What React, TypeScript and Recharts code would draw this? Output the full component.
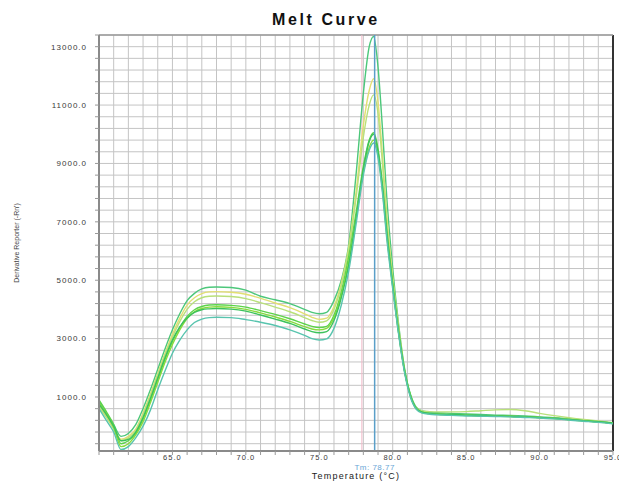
import { LineChart, Line, XAxis, YAxis, CartesianGrid, ReferenceLine } from 'recharts';

// temperature (°C) sample points shared by every well
const temps = [
  60, 60.5, 61, 61.5, 62, 62.5, 63, 63.5, 64, 64.5, 65, 65.5, 66, 66.5, 67, 67.5, 68, 69, 70, 71, 72, 73, 74,
  74.5, 75, 75.5, 76, 76.5, 77, 77.5, 78, 78.4, 78.7, 79, 79.3, 79.6, 80, 80.4, 80.8, 81.2, 81.6, 82, 82.5, 83,
  84, 85, 86, 87, 88, 89, 90, 91, 92, 93, 94, 95,
];

const wellA = [
  850, 450, 50, -350, -250, 50, 600, 1250, 1950, 2650, 3300, 3850, 4300, 4550, 4700, 4760, 4770, 4750, 4660, 4450,
  4330, 4200, 4000, 3900, 3850, 3900, 4300, 5000, 6200, 8600, 11400, 13000, 13350, 12300, 10200, 7800, 5400, 3500,
  2000, 1100, 650, 520, 480, 460, 440, 420, 400, 380, 370, 350, 320, 290, 250, 210, 160, 110,
];
const wellB = [
  700, 350, -50, -450, -350, -100, 450, 1100, 1800, 2500, 3150, 3700, 4150, 4400, 4540, 4600, 4610, 4590, 4520, 4380,
  4220, 4060, 3850, 3730, 3660, 3700, 4100, 4900, 6100, 8000, 10300, 11500, 11900, 11100, 9300, 7200, 5100, 3400,
  1950, 1050, 600, 470, 430, 410, 390, 370, 360, 350, 340, 320, 300, 270, 230, 190, 150, 110,
];
const wellC = [
  650, 300, -100, -500, -400, -150, 400, 1050, 1750, 2450, 3050, 3580, 4000, 4260, 4400, 4450, 4460, 4440, 4370, 4230,
  4080, 3920, 3720, 3620, 3560, 3610, 4000, 4800, 6000, 7800, 9900, 11000, 11350, 10700, 9000, 7000, 5000, 3300,
  1900, 1050, 640, 520, 500, 490, 490, 500, 530, 560, 570, 530, 440, 360, 290, 230, 180, 120,
];
const wellD = [
  900, 500, 50, -600, -500, -250, 250, 900, 1600, 2300, 2900, 3380, 3760, 3990, 4100, 4150, 4160, 4140, 4080, 3960,
  3830, 3680, 3500, 3420, 3380, 3420, 3800, 4600, 5800, 7300, 8900, 9800, 10050, 9500, 8300, 6700, 4900, 3300, 1950,
  1080, 620, 480, 440, 420, 400, 380, 360, 350, 340, 320, 300, 270, 230, 190, 150, 100,
];
const wellE = [
  800, 420, -50, -700, -600, -300, 150, 800, 1500, 2200, 2800, 3300, 3690, 3920, 4030, 4080, 4090, 4070, 4000, 3880,
  3740, 3590, 3410, 3330, 3300, 3350, 3720, 4500, 5600, 7100, 8700, 9550, 9800, 9300, 8100, 6500, 4800, 3200, 1900,
  1050, 600, 470, 430, 410, 390, 370, 350, 340, 330, 310, 290, 260, 220, 180, 140, 90,
];
const wellF = [
  750, 400, 0, -500, -450, -200, 300, 950, 1650, 2350, 2950, 3400, 3710, 3900, 3990, 4020, 4030, 4010, 3940, 3810,
  3670, 3520, 3330, 3240, 3200, 3240, 3620, 4400, 5500, 7100, 8800, 9750, 10000, 9400, 8200, 6600, 4800, 3200, 1900,
  1050, 610, 480, 440, 420, 400, 380, 360, 350, 340, 320, 300, 270, 230, 190, 150, 100,
];
const wellH = [
  600, 200, -200, -800, -700, -400, 0, 550, 1250, 1900, 2500, 2950, 3300, 3550, 3670, 3720, 3730, 3720, 3650, 3560,
  3450, 3300, 3110, 3000, 2950, 2990, 3350, 4150, 5300, 6900, 8600, 9450, 9700, 9200, 8000, 6400, 4700, 3150, 1850,
  1000, 580, 450, 410, 390, 370, 350, 340, 330, 320, 300, 280, 250, 210, 170, 130, 80,
];

const xTicks = [
  60, 61, 62, 63, 64, 65, 66, 67, 68, 69, 70, 71, 72, 73, 74, 75, 76, 77, 78, 79, 80, 81, 82, 83, 84, 85, 86, 87, 88,
  89, 90, 91, 92, 93, 94, 95,
];
const xLabels = [65, 70, 75, 80, 85, 90, 95];
const yTicks = [
  -600, -200, 200, 600, 1000, 1400, 1800, 2200, 2600, 3000, 3400, 3800, 4200, 4600, 5000, 5400, 5800, 6200, 6600,
  7000, 7400, 7800, 8200, 8600, 9000, 9400, 9800, 10200, 10600, 11000, 11400, 11800, 12200, 12600, 13000, 13400,
];
const yLabels = [1000, 3000, 5000, 7000, 9000, 11000, 13000];

const tm = 78.77;

const wells = [
  { key: 'a', values: wellA, color: '#4cc77a' },
  { key: 'b', values: wellB, color: '#e2df72' },
  { key: 'c', values: wellC, color: '#b9e07a' },
  { key: 'd', values: wellD, color: '#5cd34a' },
  { key: 'e', values: wellE, color: '#86dc3c' },
  { key: 'f', values: wellF, color: '#3cc25c' },
  { key: 'h', values: wellH, color: '#58c4ae' },
];

const data = temps.map((t, i) => {
  const row: Record<string, number> = { t };
  wells.forEach((w) => {
    row[w.key] = w.values[i];
  });
  return row;
});

const font = '"Liberation Sans", Arial, sans-serif';

export default function App() {
  return (
    <div
      style={{
        position: 'absolute',
        left: 0,
        top: 0,
        width: 619,
        height: 481,
        background: '#fff',
        fontFamily: font,
      }}
    >
      <div
        style={{
          position: 'absolute',
          left: 272,
          top: 11,
          fontSize: 16,
          fontWeight: 'bold',
          letterSpacing: '2.6px',
          color: '#111',
        }}
      >
        Melt Curve
      </div>
      <LineChart width={619} height={481} data={data} margin={{ top: 35, right: 6, bottom: 0, left: 0 }}>
        <CartesianGrid stroke="#c4c4c4" strokeWidth={1} />
        <XAxis
          dataKey="t"
          type="number"
          domain={[60, 95]}
          ticks={xTicks}
          interval={0}
          height={30}
          tickSize={4}
          tickMargin={0}
          axisLine={{ stroke: '#8a8a8a', strokeWidth: 2 }}
          tickLine={{ stroke: '#999' }}
          tick={{ fontSize: 7.5, fill: '#3a3a3a', letterSpacing: 1, fontFamily: font }}
          tickFormatter={(v: number) => (xLabels.includes(v) ? v.toFixed(1) : '')}
          label={{
            value: 'Temperature (°C)',
            position: 'insideBottom',
            offset: 2,
            fontSize: 9,
            fill: '#222',
            letterSpacing: 1.2,
            fontFamily: font,
          }}
        />
        <YAxis
          type="number"
          domain={[-850, 13400]}
          ticks={yTicks}
          interval={0}
          width={99}
          tickSize={4}
          tickMargin={8}
          axisLine={{ stroke: '#8a8a8a', strokeWidth: 2 }}
          tickLine={{ stroke: '#999' }}
          tick={{ fontSize: 8, fill: '#3a3a3a', letterSpacing: 1, fontFamily: font }}
          tickFormatter={(v: number) => (yLabels.includes(v) ? v.toFixed(1) : '')}
          label={{
            value: "Derivative Reporter (-Rn')",
            angle: -90,
            position: 'insideLeft',
            offset: 17,
            fontSize: 7,
            fill: '#444',
            fontFamily: font,
            style: { textAnchor: 'middle' },
          }}
        />
        <ReferenceLine x={95} stroke="#333" strokeWidth={2} />
        <ReferenceLine y={13400} stroke="#999" strokeWidth={1.5} />
        <ReferenceLine x={77.9} stroke="#f2b9c9" strokeWidth={1} />
        {wells.map((w) => (
          <Line
            key={w.key}
            dataKey={w.key}
            type="monotone"
            stroke={w.color}
            strokeWidth={1.4}
            dot={false}
            isAnimationActive={false}
          />
        ))}
        <ReferenceLine
          x={tm}
          stroke="#5a9fc8"
          strokeWidth={1.5}
          label={{
            value: 'Tm: 78.77',
            position: 'bottom',
            offset: 13,
            fontSize: 8,
            fill: '#6aa6d6',
            letterSpacing: 0.5,
            fontFamily: font,
          }}
        />
      </LineChart>
    </div>
  );
}
